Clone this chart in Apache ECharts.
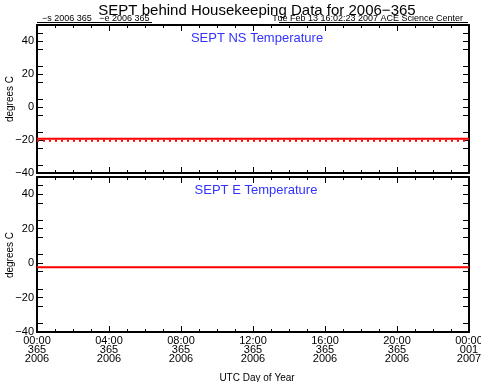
<!DOCTYPE html>
<html><head><meta charset="utf-8">
<script src="https://cdn.jsdelivr.net/npm/echarts@6/dist/echarts.min.js"></script>
<style>html,body{margin:0;padding:0;background:#fff}#c{width:481px;height:382px}</style>
</head><body><div id="c"></div>
<script>
var hours = [0,1,2,3,4,5,6,7,8,9,10,11,12,13,14,15,16,17,18,19,20,21,22,23,24];
var nsTemp = [-19.2,-19.2,-19.2,-19.2,-19.2,-19.2,-19.2,-19.2,-19.2,-19.2,-19.2,-19.2,-19.2,-19.2,-19.2,-19.2,-19.2,-19.2,-19.2,-19.2,-19.2,-19.2,-19.2,-19.2,-19.2];
var nsTempDots = [-20.4,-20.4,-20.4,-20.4,-20.4,-20.4,-20.4,-20.4,-20.4,-20.4,-20.4,-20.4,-20.4,-20.4,-20.4,-20.4,-20.4,-20.4,-20.4,-20.4,-20.4,-20.4,-20.4,-20.4,-20.4];
var eTemp = [-2.4,-2.4,-2.4,-2.4,-2.4,-2.4,-2.4,-2.4,-2.4,-2.4,-2.4,-2.4,-2.4,-2.4,-2.4,-2.4,-2.4,-2.4,-2.4,-2.4,-2.4,-2.4,-2.4,-2.4,-2.4];
var xTickLabels = {0:'00:00\n365\n2006',4:'04:00\n365\n2006',8:'08:00\n365\n2006',12:'12:00\n365\n2006',16:'16:00\n365\n2006',20:'20:00\n365\n2006',24:'00:00\n001\n2007'};
var yTickValues = [-40,-20,0,20,40];
var panelTitles = ['SEPT NS Temperature','SEPT E Temperature'];

function pairs(xs, ys){ return xs.map(function(x,i){return [x, ys[i]];}); }
var FONT = 'Liberation Sans';
var grids = [
  {left:37, top:25, width:432, height:148, outerBoundsMode:'none', containLabel:false},
  {left:37, top:177, width:432, height:155, outerBoundsMode:'none', containLabel:false}
];
var xAxes = [], yAxes = [];
grids.forEach(function(g, gi){
  [['bottom',gi===1],['top',false]].forEach(function(p){
    xAxes.push({type:'value', gridIndex:gi, position:p[0], min:0, max:24, interval:4,
      axisLine:{show:true, onZero:false, lineStyle:{color:'#000', width:2}},
      axisTick:{show:true, inside:true, length:6, lineStyle:{color:'#000', width:1}},
      minorTick:{show:true, splitNumber:4, length:3, lineStyle:{color:'#000'}},
      splitLine:{show:false},
      axisLabel:{show:p[1], color:'#000', fontFamily:FONT, fontSize:11, lineHeight:9, margin:4,
        formatter:function(v){return xTickLabels[v]||'';}}
    });
  });
  [['left',true],['right',false]].forEach(function(p){
    yAxes.push({type:'value', gridIndex:gi, position:p[0], min:-40, max:50, interval:10,
      axisLine:{show:true, onZero:false, lineStyle:{color:'#000', width:2}},
      axisTick:{show:true, inside:true, length:6, lineStyle:{color:'#000', width:1},
        customValues:yTickValues},
      minorTick:{show:true, splitNumber:2, length:6, lineStyle:{color:'#000'}},
      splitLine:{show:false},
      axisLabel:{show:p[1], color:'#000', fontFamily:FONT, fontSize:11, margin:3,
        customValues:yTickValues, formatter:function(v){return v<0?'\u2212'+Math.abs(v):String(v);}}
    });
  });
});
function yName(cy){
  return {type:'text', x:10, y:cy, rotation:Math.PI/2,
    style:{text:'degrees C', fill:'#000', font:'10px "Liberation Sans"', align:'center', verticalAlign:'middle'}};
}
var option = {
  animation:false,
  backgroundColor:'#fff',
  title:[
    {text:'SEPT behind Housekeeping Data for 2006\u2212365', left:252, top:-2, textAlign:'center',
     textStyle:{fontFamily:FONT, fontWeight:'normal', fontSize:15, color:'#000'}},
    {text:panelTitles[0], left:252, top:27, textAlign:'center',
     textStyle:{fontFamily:FONT, fontWeight:'normal', fontSize:13, color:'#3333ff'}},
    {text:panelTitles[1], left:251, top:179, textAlign:'center',
     textStyle:{fontFamily:FONT, fontWeight:'normal', fontSize:13, color:'#3333ff'}},
    {text:'UTC Day of Year', left:252, top:368, textAlign:'center',
     textStyle:{fontFamily:FONT, fontWeight:'normal', fontSize:10, color:'#000'}},
    {text:'\u2212s 2006 365   \u2212e 2006 365', left:37, top:9,
     textStyle:{fontFamily:FONT, fontWeight:'normal', fontSize:9, color:'#000'}},
    {text:'Tue Feb 13 16:02:23 2007 ACE Science Center', right:13, top:9,
     textStyle:{fontFamily:FONT, fontWeight:'normal', fontSize:9, color:'#000'}}
  ],
  graphic:[
    {type:'line', shape:{x1:37,y1:22.5,x2:152,y2:22.5}, style:{stroke:'#000', lineWidth:1}},
    {type:'line', shape:{x1:279,y1:22.5,x2:468,y2:22.5}, style:{stroke:'#000', lineWidth:1}},
    yName(99), yName(255)
  ],
  grid:grids,
  xAxis:xAxes,
  yAxis:yAxes,
  series:[
    {type:'line', xAxisIndex:0, yAxisIndex:0, data:pairs(hours, nsTemp), showSymbol:false,
     lineStyle:{color:'#ff0000', width:2}},
    {type:'line', xAxisIndex:0, yAxisIndex:0, data:pairs(hours, nsTempDots), showSymbol:false,
     lineStyle:{color:'#ff0000', width:2, type:[2,4]}},
    {type:'line', xAxisIndex:2, yAxisIndex:2, data:pairs(hours, eTemp), showSymbol:false,
     lineStyle:{color:'#ff0000', width:2}}
  ]
};
var chart = echarts.init(document.getElementById('c'), null, {renderer:'canvas'});
chart.setOption(option);
</script></body></html>
